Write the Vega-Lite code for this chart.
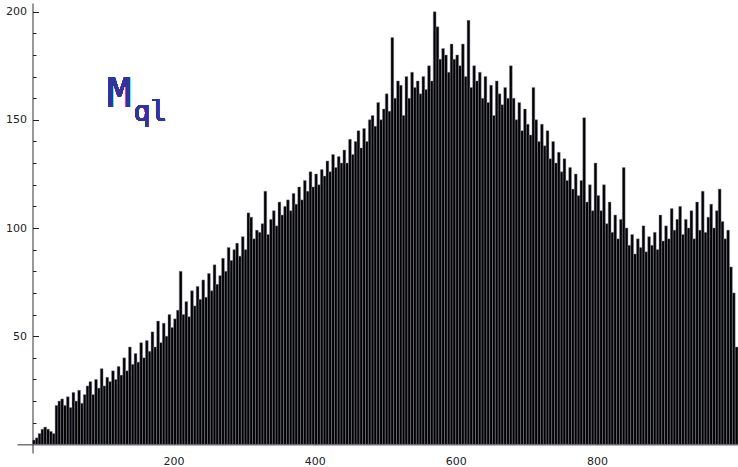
{
  "$schema": "https://vega.github.io/schema/vega-lite/v6.json",
  "width": 721,
  "height": 450,
  "autosize": {"type": "none"},
  "padding": {"left": 17, "top": 3, "right": 0, "bottom": 14},
  "background": "white",
  "config": {
    "view": {"stroke": null},
    "axis": {"labelFont": "DejaVu Sans", "labelFontSize": 11, "labelColor": "#222222", "domainColor": "#333333", "tickColor": "#222222", "tickWidth": 1, "grid": false, "title": null, "labelFlush": false, "labelOverlap": false}
  },
  "data": {"values": [
    {"b0":0,"b1":4,"n":2},{"b0":4,"b1":8,"n":3},{"b0":8,"b1":12,"n":5},{"b0":12,"b1":16,"n":7},{"b0":16,"b1":20,"n":8},{"b0":20,"b1":24,"n":7},{"b0":24,"b1":28,"n":6},{"b0":28,"b1":32,"n":5},{"b0":32,"b1":36,"n":18},{"b0":36,"b1":40,"n":20},
    {"b0":40,"b1":44,"n":21},{"b0":44,"b1":48,"n":18},{"b0":48,"b1":52,"n":22},{"b0":52,"b1":56,"n":17},{"b0":56,"b1":60,"n":24},{"b0":60,"b1":64,"n":20},{"b0":64,"b1":68,"n":25},{"b0":68,"b1":72,"n":19},{"b0":72,"b1":76,"n":23},{"b0":76,"b1":80,"n":27},
    {"b0":80,"b1":84,"n":29},{"b0":84,"b1":88,"n":23},{"b0":88,"b1":92,"n":30},{"b0":92,"b1":96,"n":26},{"b0":96,"b1":100,"n":35},{"b0":100,"b1":104,"n":27},{"b0":104,"b1":108,"n":31},{"b0":108,"b1":112,"n":29},{"b0":112,"b1":116,"n":34},{"b0":116,"b1":120,"n":30},
    {"b0":120,"b1":124,"n":36},{"b0":124,"b1":128,"n":32},{"b0":128,"b1":132,"n":40},{"b0":132,"b1":136,"n":34},{"b0":136,"b1":140,"n":45},{"b0":140,"b1":144,"n":37},{"b0":144,"b1":148,"n":42},{"b0":148,"b1":152,"n":38},{"b0":152,"b1":156,"n":47},{"b0":156,"b1":160,"n":40},
    {"b0":160,"b1":164,"n":48},{"b0":164,"b1":168,"n":43},{"b0":168,"b1":172,"n":52},{"b0":172,"b1":176,"n":45},{"b0":176,"b1":180,"n":57},{"b0":180,"b1":184,"n":47},{"b0":184,"b1":188,"n":56},{"b0":188,"b1":192,"n":50},{"b0":192,"b1":196,"n":60},{"b0":196,"b1":200,"n":54},
    {"b0":200,"b1":204,"n":58},{"b0":204,"b1":208,"n":62},{"b0":208,"b1":212,"n":80},{"b0":212,"b1":216,"n":60},{"b0":216,"b1":220,"n":66},{"b0":220,"b1":224,"n":59},{"b0":224,"b1":228,"n":71},{"b0":228,"b1":232,"n":64},{"b0":232,"b1":236,"n":73},{"b0":236,"b1":240,"n":67},
    {"b0":240,"b1":244,"n":76},{"b0":244,"b1":248,"n":68},{"b0":248,"b1":252,"n":79},{"b0":252,"b1":256,"n":71},{"b0":256,"b1":260,"n":83},{"b0":260,"b1":264,"n":74},{"b0":264,"b1":268,"n":78},{"b0":268,"b1":272,"n":86},{"b0":272,"b1":276,"n":80},{"b0":276,"b1":280,"n":91},
    {"b0":280,"b1":284,"n":85},{"b0":284,"b1":288,"n":90},{"b0":288,"b1":292,"n":93},{"b0":292,"b1":296,"n":87},{"b0":296,"b1":300,"n":96},{"b0":300,"b1":304,"n":90},{"b0":304,"b1":308,"n":107},{"b0":308,"b1":312,"n":105},{"b0":312,"b1":316,"n":95},{"b0":316,"b1":320,"n":99},
    {"b0":320,"b1":324,"n":98},{"b0":324,"b1":328,"n":102},{"b0":328,"b1":332,"n":117},{"b0":332,"b1":336,"n":97},{"b0":336,"b1":340,"n":104},{"b0":340,"b1":344,"n":108},{"b0":344,"b1":348,"n":101},{"b0":348,"b1":352,"n":112},{"b0":352,"b1":356,"n":106},{"b0":356,"b1":360,"n":110},
    {"b0":360,"b1":364,"n":113},{"b0":364,"b1":368,"n":108},{"b0":368,"b1":372,"n":116},{"b0":372,"b1":376,"n":111},{"b0":376,"b1":380,"n":119},{"b0":380,"b1":384,"n":113},{"b0":384,"b1":388,"n":122},{"b0":388,"b1":392,"n":117},{"b0":392,"b1":396,"n":126},{"b0":396,"b1":400,"n":119},
    {"b0":400,"b1":404,"n":125},{"b0":404,"b1":408,"n":120},{"b0":408,"b1":412,"n":127},{"b0":412,"b1":416,"n":124},{"b0":416,"b1":420,"n":131},{"b0":420,"b1":424,"n":126},{"b0":424,"b1":428,"n":134},{"b0":428,"b1":432,"n":128},{"b0":432,"b1":436,"n":133},{"b0":436,"b1":440,"n":130},
    {"b0":440,"b1":444,"n":136},{"b0":444,"b1":448,"n":130},{"b0":448,"b1":452,"n":141},{"b0":452,"b1":456,"n":134},{"b0":456,"b1":460,"n":140},{"b0":460,"b1":464,"n":145},{"b0":464,"b1":468,"n":137},{"b0":468,"b1":472,"n":146},{"b0":472,"b1":476,"n":140},{"b0":476,"b1":480,"n":150},
    {"b0":480,"b1":484,"n":152},{"b0":484,"b1":488,"n":147},{"b0":488,"b1":492,"n":158},{"b0":492,"b1":496,"n":150},{"b0":496,"b1":500,"n":155},{"b0":500,"b1":504,"n":162},{"b0":504,"b1":508,"n":154},{"b0":508,"b1":512,"n":188},{"b0":512,"b1":516,"n":160},{"b0":516,"b1":520,"n":168},
    {"b0":520,"b1":524,"n":166},{"b0":524,"b1":528,"n":152},{"b0":528,"b1":532,"n":170},{"b0":532,"b1":536,"n":160},{"b0":536,"b1":540,"n":172},{"b0":540,"b1":544,"n":165},{"b0":544,"b1":548,"n":168},{"b0":548,"b1":552,"n":162},{"b0":552,"b1":556,"n":170},{"b0":556,"b1":560,"n":164},
    {"b0":560,"b1":564,"n":175},{"b0":564,"b1":568,"n":168},{"b0":568,"b1":572,"n":200},{"b0":572,"b1":576,"n":193},{"b0":576,"b1":580,"n":178},{"b0":580,"b1":584,"n":183},{"b0":584,"b1":588,"n":180},{"b0":588,"b1":592,"n":172},{"b0":592,"b1":596,"n":185},{"b0":596,"b1":600,"n":178},
    {"b0":600,"b1":604,"n":180},{"b0":604,"b1":608,"n":175},{"b0":608,"b1":612,"n":185},{"b0":612,"b1":616,"n":170},{"b0":616,"b1":620,"n":196},{"b0":620,"b1":624,"n":165},{"b0":624,"b1":628,"n":175},{"b0":628,"b1":632,"n":168},{"b0":632,"b1":636,"n":172},{"b0":636,"b1":640,"n":160},
    {"b0":640,"b1":644,"n":170},{"b0":644,"b1":648,"n":158},{"b0":648,"b1":652,"n":166},{"b0":652,"b1":656,"n":152},{"b0":656,"b1":660,"n":168},{"b0":660,"b1":664,"n":162},{"b0":664,"b1":668,"n":157},{"b0":668,"b1":672,"n":165},{"b0":672,"b1":676,"n":160},{"b0":676,"b1":680,"n":175},
    {"b0":680,"b1":684,"n":160},{"b0":684,"b1":688,"n":150},{"b0":688,"b1":692,"n":158},{"b0":692,"b1":696,"n":145},{"b0":696,"b1":700,"n":155},{"b0":700,"b1":704,"n":148},{"b0":704,"b1":708,"n":143},{"b0":708,"b1":712,"n":165},{"b0":712,"b1":716,"n":150},{"b0":716,"b1":720,"n":140},
    {"b0":720,"b1":724,"n":148},{"b0":724,"b1":728,"n":138},{"b0":728,"b1":732,"n":145},{"b0":732,"b1":736,"n":132},{"b0":736,"b1":740,"n":140},{"b0":740,"b1":744,"n":130},{"b0":744,"b1":748,"n":135},{"b0":748,"b1":752,"n":126},{"b0":752,"b1":756,"n":132},{"b0":756,"b1":760,"n":122},
    {"b0":760,"b1":764,"n":128},{"b0":764,"b1":768,"n":118},{"b0":768,"b1":772,"n":125},{"b0":772,"b1":776,"n":115},{"b0":776,"b1":780,"n":122},{"b0":780,"b1":784,"n":151},{"b0":784,"b1":788,"n":112},{"b0":788,"b1":792,"n":120},{"b0":792,"b1":796,"n":108},{"b0":796,"b1":800,"n":130},
    {"b0":800,"b1":804,"n":115},{"b0":804,"b1":808,"n":108},{"b0":808,"b1":812,"n":120},{"b0":812,"b1":816,"n":102},{"b0":816,"b1":820,"n":112},{"b0":820,"b1":824,"n":98},{"b0":824,"b1":828,"n":106},{"b0":828,"b1":832,"n":95},{"b0":832,"b1":836,"n":104},{"b0":836,"b1":840,"n":128},
    {"b0":840,"b1":844,"n":100},{"b0":844,"b1":848,"n":92},{"b0":848,"b1":852,"n":97},{"b0":852,"b1":856,"n":88},{"b0":856,"b1":860,"n":95},{"b0":860,"b1":864,"n":91},{"b0":864,"b1":868,"n":101},{"b0":868,"b1":872,"n":89},{"b0":872,"b1":876,"n":96},{"b0":876,"b1":880,"n":92},
    {"b0":880,"b1":884,"n":98},{"b0":884,"b1":888,"n":90},{"b0":888,"b1":892,"n":106},{"b0":892,"b1":896,"n":94},{"b0":896,"b1":900,"n":101},{"b0":900,"b1":904,"n":95},{"b0":904,"b1":908,"n":109},{"b0":908,"b1":912,"n":99},{"b0":912,"b1":916,"n":104},{"b0":916,"b1":920,"n":110},
    {"b0":920,"b1":924,"n":97},{"b0":924,"b1":928,"n":104},{"b0":928,"b1":932,"n":100},{"b0":932,"b1":936,"n":108},{"b0":936,"b1":940,"n":95},{"b0":940,"b1":944,"n":112},{"b0":944,"b1":948,"n":99},{"b0":948,"b1":952,"n":117},{"b0":952,"b1":956,"n":98},{"b0":956,"b1":960,"n":105},
    {"b0":960,"b1":964,"n":111},{"b0":964,"b1":968,"n":100},{"b0":968,"b1":972,"n":108},{"b0":972,"b1":976,"n":118},{"b0":976,"b1":980,"n":103},{"b0":980,"b1":984,"n":95},{"b0":984,"b1":988,"n":99},{"b0":988,"b1":992,"n":82},{"b0":992,"b1":996,"n":70},{"b0":996,"b1":1000,"n":45}
  ]},
  "resolve": {"axis": {"y": "independent"}},
  "layer": [
    {
      "mark": {"type": "bar", "fill": "black", "stroke": "#8e8e9e", "strokeWidth": 0.45},
      "encoding": {
        "x": {"field": "b0", "type": "quantitative",
          "scale": {"domain": [-22, 1000], "nice": false, "zero": false},
          "axis": {"values": [200,400,600,800],
            "labelOverlap": false,
            "tickSize": -6,
            "offset": -8.65, "labelPadding": 17}},
        "x2": {"field": "b1"},
        "y": {"field": "n", "type": "quantitative",
          "scale": {"domain": [-4, 204], "nice": false, "zero": false},
          "axis": {"orient": "left", "values": [50,100,150,200],
            "labelOverlap": false,
            "tickSize": -6,
            "offset": -15.5, "labelPadding": 12}},
        "y2": {"datum": 0}
      }
    },
    {
      "mark": {"type": "text", "text": "M", "font": "DejaVu Sans Mono", "fontSize": 40, "fill": "#33339c", "align": "left", "baseline": "alphabetic"},
      "encoding": {"x": {"datum": 106}, "y": {"datum": 156, "axis": {"orient": "right", "values": [10,20,30,40,60,70,80,90,110,120,130,140,160,170,180,190], "labels": false, "domain": false, "tickSize": 3.5, "offset": -705.5}}}
    },
    {
      "mark": {"type": "text", "text": "ql", "font": "DejaVu Sans Mono", "fontSize": 28, "fill": "#33339c", "align": "left", "baseline": "alphabetic"},
      "encoding": {"x": {"datum": 143}, "y": {"datum": 149.5, "axis": null}}
    }
  ]
}
